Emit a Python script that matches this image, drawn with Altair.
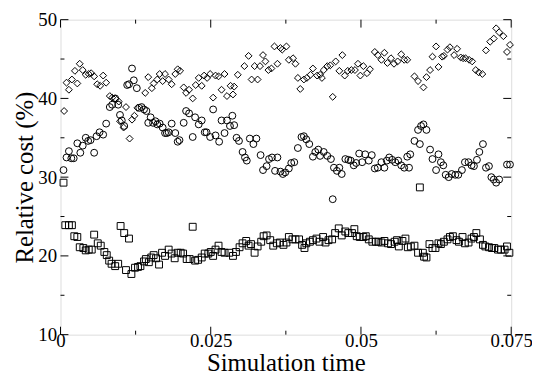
import altair as alt
import pandas as pd

# ---- data ----
dia_t = [0.0006,0.0010,0.0014,0.0019,0.0024,0.0028,0.0032,0.0037,0.0042,0.0047,0.0051,0.0056,0.0061,0.0066,0.0071,0.0076,
         0.0082,0.0086,0.0091,0.0097,0.0099,0.0105,0.0109,0.0115,0.0119,0.0123,0.0128,0.0141,0.0146,0.0152,0.0155,0.0161,
         0.0165,0.0170,0.0174,0.0180,0.0185,0.0191,0.0195,0.0199,0.0205,0.0209,0.0214,0.0220,0.0225,0.0230,0.0235,0.0239,
         0.0244,0.0249,0.0254,0.0258,0.0263,0.0268,0.0273,0.0277,0.0283,0.0287,0.0289,0.0295,0.0306,0.0313,0.0318,0.0323,
         0.0328,0.0332,0.0337,0.0341,0.0346,0.0351,0.0356,0.0361,0.0366,0.0369,0.0376,0.0380,0.0387,0.0391,0.0395,0.0399,
         0.0405,0.0410,0.0416,0.0420,0.0427,0.0432,0.0435,0.0438,0.0444,0.0449,0.0453,0.0458,0.0464,0.0469,0.0473,0.0478,
         0.0484,0.0490,0.0495,0.0499,0.0504,0.0510,0.0515,0.0523,0.0528,0.0534,0.0539,0.0544,0.0550,0.0555,0.0561,0.0567,
         0.0572,0.0577,0.0589,0.0595,0.0604,0.0609,0.0615,0.0619,0.0625,0.0629,0.0635,0.0638,0.0644,0.0648,0.0655,0.0660,
         0.0666,0.0670,0.0674,0.0680,0.0685,0.0691,0.0696,0.0702,0.0708,0.0715,0.0721,0.0725,0.0730,0.0737,0.0743,0.0748]
dia_v = [38.4,42.0,41.1,42.4,43.5,41.9,44.4,43.6,43.0,43.1,43.2,42.8,41.8,41.6,42.9,42.0,
         40.3,40.1,40.0,39.6,37.1,36.3,38.9,34.9,37.3,37.8,38.8,40.7,42.7,41.3,41.9,42.4,
         43.1,42.2,43.1,42.4,41.8,43.1,43.7,43.5,41.4,40.7,41.1,40.0,41.7,42.6,41.6,42.9,
         42.6,43.1,40.1,42.9,42.8,41.1,43.1,40.3,41.6,40.5,41.5,43.0,44.1,45.4,42.4,44.1,
         42.4,44.1,45.5,44.7,43.6,43.8,46.6,44.4,46.4,46.2,46.6,44.9,45.1,44.4,42.6,41.2,
         42.4,42.6,43.0,43.8,42.9,43.0,42.6,43.6,44.1,44.2,40.2,44.7,43.5,45.5,42.9,43.5,
         43.6,43.6,44.4,42.9,44.1,43.2,43.7,45.9,45.5,44.9,45.8,44.5,45.1,44.4,44.7,45.6,
         44.9,44.9,42.8,42.2,41.4,42.7,43.6,45.3,46.6,44.0,45.3,45.4,46.2,46.5,45.5,46.3,
         45.2,45.1,45.1,44.9,44.7,43.6,43.3,43.1,46.1,47.2,47.6,48.9,48.4,47.9,45.9,46.8]

cir_t = [0.0005,0.0010,0.0014,0.0018,0.0022,0.0028,0.0033,0.0037,0.0042,0.0046,0.0050,0.0056,0.0060,0.0065,0.0071,0.0076,
         0.0082,0.0086,0.0091,0.0096,0.0099,0.0102,0.0106,0.0111,0.0114,0.0119,0.0122,0.0127,0.0131,0.0135,0.0139,0.0143,
         0.0146,0.0150,0.0154,0.0158,0.0161,0.0165,0.0170,0.0174,0.0177,0.0180,0.0185,0.0191,0.0195,0.0198,0.0205,0.0209,
         0.0214,0.0220,0.0224,0.0230,0.0235,0.0240,0.0243,0.0249,0.0254,0.0258,0.0264,0.0268,0.0273,0.0277,0.0282,0.0286,
         0.0289,0.0293,0.0297,0.0303,0.0307,0.0310,0.0315,0.0321,0.0326,0.0333,0.0337,0.0343,0.0347,0.0352,0.0357,0.0361,
         0.0366,0.0370,0.0374,0.0380,0.0384,0.0389,0.0395,0.0401,0.0405,0.0409,0.0414,0.0420,0.0424,0.0429,0.0432,0.0438,
         0.0444,0.0450,0.0453,0.0455,0.0460,0.0464,0.0468,0.0474,0.0479,0.0483,0.0488,0.0492,0.0497,0.0502,0.0507,0.0513,
         0.0518,0.0523,0.0528,0.0534,0.0539,0.0543,0.0547,0.0552,0.0557,0.0562,0.0567,0.0572,0.0577,0.0580,0.0582,0.0589,
         0.0595,0.0598,0.0600,0.0604,0.0609,0.0615,0.0619,0.0625,0.0629,0.0633,0.0637,0.0641,0.0646,0.0651,0.0657,0.0662,
         0.0668,0.0673,0.0679,0.0684,0.0688,0.0693,0.0697,0.0703,0.0708,0.0713,0.0717,0.0721,0.0725,0.0730,0.0743,0.0748]
cir_v = [30.9,32.5,33.3,32.4,32.4,34.3,33.1,34.0,35.0,34.6,34.7,33.1,35.2,35.7,35.4,36.8,
         38.9,39.2,40.0,39.2,37.9,37.2,36.5,41.7,41.8,43.8,42.3,41.3,38.8,38.9,38.6,38.4,
         36.9,37.6,36.9,37.1,36.7,36.8,36.3,35.6,35.6,35.7,36.8,35.6,34.5,34.7,36.9,38.4,
         38.1,35.1,37.6,36.7,37.2,35.7,35.7,35.1,38.6,35.3,34.5,37.2,35.6,37.2,36.5,37.8,
         36.6,35.0,34.6,33.2,32.5,32.1,34.9,34.2,34.9,32.8,30.9,31.4,32.3,32.5,30.8,32.5,
         30.7,30.4,30.6,31.1,31.8,31.9,33.7,35.1,35.2,34.8,34.2,32.6,33.2,33.5,32.7,33.2,
         32.7,32.3,27.2,31.2,30.8,31.2,30.4,32.3,32.2,32.1,31.5,31.8,33.0,31.9,32.9,32.1,
         32.8,31.1,31.2,31.9,31.2,32.1,32.5,32.2,31.9,32.1,31.5,31.2,32.6,31.2,32.9,34.6,
         36.0,34.2,36.5,36.7,36.0,33.5,32.3,30.9,32.9,31.9,31.5,30.3,30.0,30.4,30.3,30.3,
         30.9,31.9,31.9,31.5,31.4,32.2,33.2,34.2,31.2,31.4,30.0,29.7,29.3,29.7,31.6,31.6]

sq_t = [0.0005,0.0008,0.0014,0.0019,0.0023,0.0028,0.0032,0.0038,0.0042,0.0047,0.0052,0.0056,0.0062,0.0067,0.0073,0.0077,
        0.0081,0.0085,0.0091,0.0096,0.0100,0.0106,0.0109,0.0114,0.0118,0.0124,0.0129,0.0133,0.0139,0.0142,0.0147,0.0151,
        0.0155,0.0159,0.0164,0.0169,0.0174,0.0180,0.0185,0.0190,0.0195,0.0200,0.0204,0.0210,0.0215,0.0220,0.0224,0.0229,
        0.0235,0.0240,0.0246,0.0250,0.0254,0.0258,0.0263,0.0268,0.0273,0.0281,0.0287,0.0292,0.0298,0.0303,0.0309,0.0313,
        0.0317,0.0323,0.0328,0.0334,0.0338,0.0343,0.0349,0.0354,0.0360,0.0365,0.0371,0.0376,0.0380,0.0386,0.0391,0.0397,
        0.0402,0.0406,0.0409,0.0415,0.0420,0.0426,0.0431,0.0437,0.0441,0.0446,0.0452,0.0457,0.0463,0.0468,0.0474,0.0479,
        0.0485,0.0489,0.0493,0.0498,0.0504,0.0508,0.0513,0.0519,0.0525,0.0529,0.0534,0.0539,0.0545,0.0550,0.0556,0.0560,
        0.0563,0.0569,0.0574,0.0578,0.0583,0.0589,0.0595,0.0598,0.0603,0.0605,0.0609,0.0614,0.0619,0.0624,0.0629,0.0633,
        0.0638,0.0644,0.0648,0.0653,0.0659,0.0663,0.0669,0.0673,0.0679,0.0684,0.0688,0.0692,0.0698,0.0703,0.0707,0.0713,
        0.0718,0.0722,0.0728,0.0733,0.0739,0.0743,0.0747]
sq_v = [29.3,23.9,23.9,23.9,22.5,22.4,21.1,21.0,20.7,20.8,20.8,22.7,21.6,21.3,20.5,20.1,
        19.4,19.0,18.7,19.0,23.8,22.9,18.2,22.2,17.7,18.5,18.6,18.7,19.3,19.6,19.2,19.8,
        20.1,19.7,18.9,20.4,20.0,20.8,20.3,19.7,20.4,20.4,20.3,19.6,19.6,23.7,19.4,19.5,
        19.8,20.3,20.3,20.5,20.0,20.8,21.3,20.5,20.4,20.4,20.0,20.5,21.1,21.6,21.9,21.3,
        21.5,20.4,21.2,21.8,22.5,22.6,22.0,21.3,21.6,21.7,21.4,21.7,22.4,22.1,22.1,22.1,
        21.4,21.0,21.6,21.8,22.0,22.2,21.8,22.4,21.7,22.0,22.1,22.9,23.5,22.6,23.1,22.9,
        22.9,23.4,22.5,22.4,22.4,22.5,22.1,21.8,21.8,21.8,21.7,21.9,21.6,21.5,21.8,22.0,
        21.2,21.9,22.2,21.1,21.2,21.3,20.4,28.7,20.4,19.9,19.8,21.5,21.0,21.0,21.6,21.5,
        21.8,22.1,22.4,22.5,22.0,21.8,22.4,21.6,21.7,22.2,22.4,22.9,22.1,21.4,21.2,21.1,
        21.0,21.0,20.8,20.8,20.8,21.2,20.4]

x_major = [0, 0.025, 0.05, 0.075]
x_minor = [0.0125, 0.0375, 0.0625]
y_major = [10, 20, 30, 40, 50]
y_minor = [15, 25, 35, 45]

W, H = 455, 318
FONT = "Liberation Serif"

df = pd.concat([
    pd.DataFrame({"t": dia_t, "v": dia_v, "s": "diamond"}),
    pd.DataFrame({"t": cir_t, "v": cir_v, "s": "circle"}),
    pd.DataFrame({"t": sq_t, "v": sq_v, "s": "square"}),
])

xscale = alt.Scale(domain=[0, 0.075], nice=False, zero=False)
yscale = alt.Scale(domain=[10, 50], nice=False, zero=False)

points = alt.Chart(df).mark_point(filled=False, size=48, strokeWidth=1, color="black", opacity=1).encode(
    x=alt.X("t:Q", scale=xscale, title="Simulation time",
            axis=alt.Axis(values=x_major, labelExpr="datum.value == 0 ? '0' : format(datum.value, '.3~f')",
                          ticks=False, domain=False, grid=False, labelFontSize=19, labelFont=FONT,
                          labelColor="black", labelPadding=-3, titleFont=FONT, titleFontSize=25,
                          titleFontWeight="normal", titleColor="black", titlePadding=0, labelFlush=False)),
    y=alt.Y("v:Q", scale=yscale, title="Relative cost (%)",
            axis=alt.Axis(values=y_major, ticks=False, domain=False, grid=False, labelFontSize=19,
                          labelFont=FONT, labelColor="black", labelPadding=4, titleFont=FONT,
                          titleFontSize=25, titleFontWeight="normal", titleColor="black",
                          titlePadding=0, labelFlush=False)),
    shape=alt.Shape("s:N", scale=alt.Scale(domain=["diamond", "circle", "square"],
                                           range=["diamond", "circle", "square"]), legend=None),
)

def xticks(vals, length):
    d = pd.DataFrame({"t": vals})
    base = alt.Chart(d).mark_rule(color="black", strokeWidth=1)
    bottom = base.encode(x=alt.X("t:Q", scale=xscale), y=alt.value(H), y2=alt.value(H - length))
    top = base.encode(x=alt.X("t:Q", scale=xscale), y=alt.value(0), y2=alt.value(length))
    return [bottom, top]

def yticks(vals, length):
    d = pd.DataFrame({"v": vals})
    base = alt.Chart(d).mark_rule(color="black", strokeWidth=1)
    left = base.encode(y=alt.Y("v:Q", scale=yscale), x=alt.value(0), x2=alt.value(length))
    right = base.encode(y=alt.Y("v:Q", scale=yscale), x=alt.value(W), x2=alt.value(W - length))
    return [left, right]

layers = [points] + xticks(x_major, 8) + xticks(x_minor, 4) + yticks(y_major, 8) + yticks(y_minor, 4)

chart = alt.layer(*layers).properties(
    width=W, height=H,
    autosize=alt.AutoSizeParams(type="none"),
    padding={"left": 53, "top": 10, "right": 21, "bottom": 43},
).configure_view(stroke="black", strokeWidth=2).configure(background="white")

chart.save("out.html", embed_options={"renderer": "svg", "actions": False})
